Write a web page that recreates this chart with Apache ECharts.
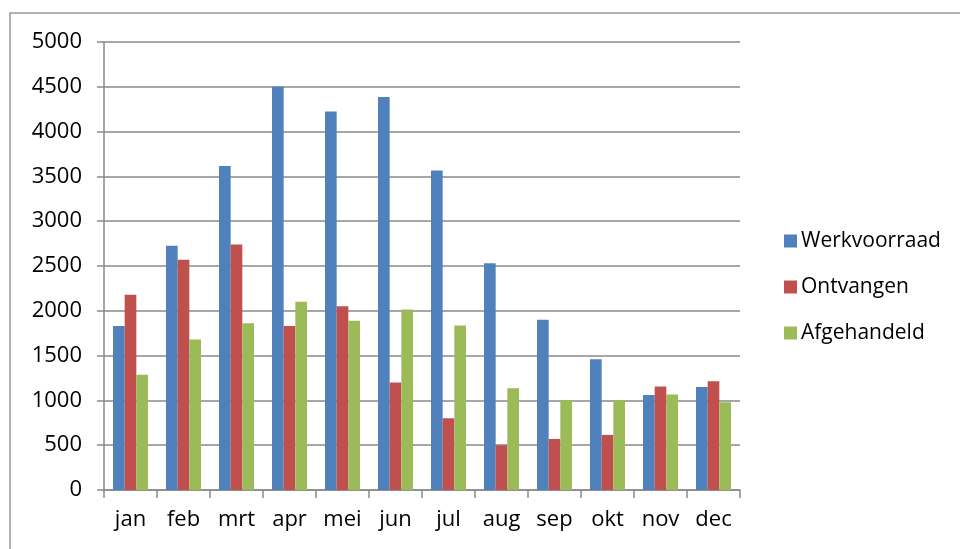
<!DOCTYPE html>
<html>
<head>
<meta charset="utf-8">
<script src="https://cdn.jsdelivr.net/npm/echarts@6/dist/echarts.min.js"></script>
<style>
  html, body { margin: 0; padding: 0; background: #fff; }
  #chart { width: 960px; height: 549px; }
</style>
</head>
<body>
<div id="chart"></div>
<script>
// data
const months = ["jan", "feb", "mrt", "apr", "mei", "jun", "jul", "aug", "sep", "okt", "nov", "dec"];
const werkvoorraad = [1830, 2725, 3615, 4500, 4225, 4385, 3565, 2530, 1900, 1460, 1060, 1150];
const ontvangen = [2180, 2570, 2740, 1830, 2050, 1200, 800, 500, 570, 615, 1155, 1215];
const afgehandeld = [1285, 1680, 1860, 2100, 1890, 2015, 1835, 1135, 1005, 1005, 1065, 980];
const seriesNames = ["Werkvoorraad", "Ontvangen", "Afgehandeld"];
const colors = ["#4F81BD", "#C0504D", "#9BBB59"];

const fontFamily = "'Open Sans', sans-serif";
const lineColor = "#8a8a8a";

const chart = echarts.init(document.getElementById("chart"));

const options = {
  animation: false,
  color: colors,
  textStyle: { fontFamily: fontFamily },
  graphic: [
    {
      type: "rect",
      shape: { x: 10, y: 13, width: 1000, height: 600 },
      style: { fill: "none", stroke: "#999", lineWidth: 1.5 },
      silent: true
    }
  ],
  legend: {
    orient: "vertical",
    left: 779,
    top: 222,
    itemWidth: 13,
    itemHeight: 13,
    itemGap: 18,
    icon: "rect",
    textStyle: { fontSize: 21, lineHeight: 28, color: "#000", fontFamily: fontFamily, padding: [0, 0, 0, -1] },
    data: seriesNames
  },
  grid: {
    left: 104,
    right: 220,
    top: 42,
    bottom: 59
  },
  xAxis: {
    type: "category",
    data: months,
    axisLine: { lineStyle: { color: lineColor, width: 1.5 } },
    axisTick: { show: true, length: 8, alignWithLabel: false, lineStyle: { color: lineColor, width: 1.5 } },
    axisLabel: { color: "#000", fontSize: 22, margin: 19, interval: 0 }
  },
  yAxis: {
    type: "value",
    min: 0,
    max: 5000,
    interval: 500,
    axisLine: { show: true, lineStyle: { color: lineColor, width: 1.5 } },
    axisTick: { show: true, length: 7, lineStyle: { color: lineColor, width: 1.5 } },
    axisLabel: { color: "#000", fontSize: 22, margin: 22, formatter: (v) => String(v) },
    splitLine: { lineStyle: { color: lineColor, width: 1.5 } }
  },
  series: [
    { name: seriesNames[0], type: "bar", data: werkvoorraad, barGap: "0%", barCategoryGap: "34%" },
    { name: seriesNames[1], type: "bar", data: ontvangen, barGap: "0%", barCategoryGap: "34%" },
    { name: seriesNames[2], type: "bar", data: afgehandeld, barGap: "0%", barCategoryGap: "34%" }
  ]
};

chart.setOption(options);
</script>
</body>
</html>
